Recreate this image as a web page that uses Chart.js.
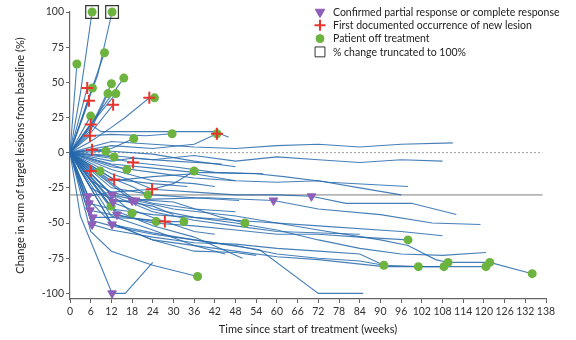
<!DOCTYPE html>
<html>
<head>
<meta charset="utf-8">
<script src="https://cdn.jsdelivr.net/npm/chart.js@4/dist/chart.umd.min.js"></script>
<style>
  html, body { margin: 0; padding: 0; background: #fff; }
  #wrap { width: 576px; height: 340px; }
</style>
</head>
<body>
<div id="wrap"><canvas id="spider"></canvas></div>
<script>
// Each patient: flat list of week, % change pairs
const patientPaths = [
  [0,0, 3,42, 6.4,100],
  [0,0, 5,35, 8,55, 12.2,100],
  [0,0, 2,63],
  [0,0, 5,36, 10,71],
  [0,0, 5,46, 6.5,46],
  [0,0, 5.5,37],
  [0,0, 6,18, 12,49],
  [0,0, 7,24, 15.6,53],
  [0,0, 6,16, 11,42],
  [0,0, 8,26, 13.3,42],
  [0,0, 6,14, 12.5,34],
  [0,0, 6,8, 12,18, 16,25, 23,39, 24.5,39],
  [0,0, 6,26],
  [0,0, 6,20, 9,15, 42,15, 46,11],
  [0,0, 5.8,12, 12,13, 22,12, 29.6,13.5],
  [0,0, 12,5, 24,3, 36,6, 42.6,13.5],
  [0,0, 6.4,2, 12,1, 24,-1, 36,-6, 48,-10],
  [0,0, 10.4,1],
  [0,0, 12.8,-3],
  [0,0, 12,-4, 18.3,-7, 30,-10, 42,-14, 56,-15],
  [0,0, 6,-13, 8.7,-13],
  [0,0, 16.5,-12],
  [0,0, 12.8,-19, 24,-22, 34,-24],
  [0,0, 12,3, 18.5,10],
  [0,0, 12,-18, 18,-24, 22.6,-30],
  [0,0, 12,-15, 18,-20, 23.8,-26, 30,-22, 36,-13],
  [0,0, 12,8, 24,6, 36,4, 48,3, 60,5, 72,6, 84,4, 96,6, 111,7],
  [0,0, 12,-2, 24,-5, 36,-2, 48,-6, 60,-3, 72,-5, 84,-7, 96,-5, 108,-6],
  [0,0, 12,-8, 24,-11, 36,-14, 54,-15, 62,-17, 75,-21, 98,-24],
  [0,0, 5.2,-31, 12,-28, 24,-26, 36,-28, 48,-30, 60,-30, 70,-31, 80,-36, 99,-36, 112,-44],
  [0,0, 12.5,-35, 24,-33, 40,-32, 59,-34, 72,-40, 90,-44, 105,-50, 119,-51],
  [0,0, 5.5,-36, 12,-40, 24,-44, 48,-48, 72,-52, 96,-56, 108,-59],
  [0,0, 5.8,-41, 12,-44, 25,-49],
  [0,0, 6.6,-46, 12,-46, 20,-47, 27.5,-49, 33,-49],
  [0,0, 6.4,-51, 12,-55, 24,-60, 36,-64, 48,-65, 60,-68, 72,-70, 84,-72, 91,-80],
  [0,0, 12.2,-30, 18,-33, 30,-35, 44,-46, 50.7,-50],
  [0,0, 11.9,-38],
  [0,0, 12.2,-30, 18,-43],
  [0,0, 13.6,-44, 24,-50, 36,-52, 48,-55, 60,-58, 72,-58, 84,-60, 98,-62],
  [0,0, 12.2,-51, 24,-57, 36,-62, 55,-69, 72,-100, 85,-100],
  [0,0, 6,-56, 12,-70, 24,-80, 37,-88],
  [0,0, 3,-45, 12.2,-100, 16,-100, 24,-78],
  [0,0, 18,-34, 24,-40, 36,-46, 48,-50, 60,-55, 72,-62, 84,-68, 96,-72, 108,-73, 120.6,-71],
  [0,0, 19,-34, 30,-40, 48,-45, 60,-50, 72,-55, 90,-62, 98,-66, 106,-76, 109.6,-78, 121.7,-78, 134,-86],
  [0,0, 6,-48, 12,-52, 24,-58, 36,-62, 48,-66, 60,-72, 72,-75, 84,-77, 91,-80, 101,-81, 108.4,-81],
  [0,0, 6,-35, 12,-50, 24,-62, 48,-70, 60,-74, 72,-76, 91,-81, 108,-81, 120.6,-81],
  [0,0, 12,-40, 24,-52, 36,-60, 50,-75],
  [0,0, 12,-25, 24,-30, 36,-32, 49,-34],
  [0,0, 12,-50, 24,-62, 36,-70, 48,-71, 54,-73],
  [0,0, 12,-20, 24,-17, 36,-15, 48,-20, 60,-21, 72,-20, 84,-25, 96,-30],
  [0,0, 12,-10, 24,-14, 36,-18, 48,-20],
  [0,0, 12,-12, 24,-20, 36,-22, 42,-24],
  [0,0, 6,-20, 12,-28, 24,-36, 36,-40, 48,-42],
  [0,0, 12,-30, 24,-42, 36,-48, 48,-52, 60,-56, 84,-58],
  [0,0, 12,-35, 24,-46, 36,-56, 42,-58],
  [0,0, 12,-6, 18,-4, 30,-6, 44,-8],
  [0,0, 6,-25, 12,-33, 24,-38, 30,-44],
  [0,0, 12,-45, 24,-55, 36,-66, 45,-72]
];

// markers: [week, % change]
const responseMarks = [
  [5.2,-31],[5.5,-36],[5.8,-41],[6.6,-46],[6.4,-51],[12.2,-30],[12.5,-35],
  [13.6,-44],[12.2,-51],[18,-34],[19,-34],[59,-34],[70,-31],[12.2,-100]
];
const lesionMarks = [
  [5,46],[5.5,37],[12.5,34],[23,39],[6,20],[5.8,12],[6.4,2],[18.3,-7],
  [6,-13],[12.8,-19],[23.8,-26],[27.5,-49],[42.6,13.5]
];
const offTreatmentMarks = [
  [6.4,100],[12.2,100],[2,63],[10,71],[6.5,46],[12,49],[15.6,53],[11,42],[13.3,42],
  [24.5,39],[6,26],[18.5,10],[29.6,13.5],[42.6,13.5],[10.4,1],[12.8,-3],[8.7,-13],
  [16.5,-12],[22.6,-30],[36,-13],[11.9,-38],[18,-43],[25,-49],[33,-49],[50.7,-50],
  [37,-88],[98,-62],[91,-80],[101,-81],[108.4,-81],[109.6,-78],[120.6,-81],[121.7,-78],[134,-86]
];
const truncatedMarks = [[6.4,100],[12.2,100]];

const xTicks = [0,6,12,18,24,30,36,42,48,54,60,66,72,78,84,90,96,102,108,114,120,126,132,138];
const yTicks = [-100,-75,-50,-25,0,25,50,75,100];
const zeroLine = [[0,0],[137,0]];
const cutoffLine = [[0,-30],[137,-30]];

const legendItems = [
  'Confirmed partial response or complete response',
  'First documented occurrence of new lesion',
  'Patient off treatment',
  '% change truncated to 100%'
];

const FONT = 'Lato, "Open Sans", sans-serif';
const LINE_COLOR = 'rgba(38,104,172,0.85)';
const GREEN = '#6db33f';
const RED = '#e8352c';
const PURPLE = '#8e5fb8';

function toPoints(arr) {
  return arr.map(p => ({ x: p[0], y: p[1] }));
}

function pathToPoints(flat) {
  const pts = [];
  for (let i = 0; i < flat.length; i += 2) pts.push({ x: flat[i], y: flat[i + 1] });
  return pts;
}

const markerSets = [
  { data: toPoints(truncatedMarks), pointStyle: 'rect', pointRadius: 9, backgroundColor: 'rgba(0,0,0,0)', borderColor: '#333', pointBorderWidth: 1.2 },
  { data: toPoints(responseMarks), pointStyle: 'triangle', rotation: 180, pointRadius: 5, backgroundColor: PURPLE, borderColor: PURPLE, pointBorderWidth: 1 },
  { data: toPoints(lesionMarks), pointStyle: 'cross', pointRadius: 6, backgroundColor: RED, borderColor: RED, pointBorderWidth: 2 },
  { data: toPoints(offTreatmentMarks), pointStyle: 'circle', pointRadius: 4.5, backgroundColor: GREEN, borderColor: GREEN, pointBorderWidth: 0 }
];

const datasets = [];
markerSets.forEach(m => {
  datasets.push(Object.assign({ showLine: false, order: 0, clip: false }, m));
});
patientPaths.forEach(p => {
  datasets.push({
    data: pathToPoints(p),
    showLine: true,
    borderColor: LINE_COLOR,
    borderWidth: 1.1,
    pointRadius: 0,
    order: 1
  });
});
datasets.push({ data: toPoints(zeroLine), showLine: true, borderColor: '#999', borderWidth: 1, borderDash: [2, 2], pointRadius: 0, order: 2 });
datasets.push({ data: toPoints(cutoffLine), showLine: true, borderColor: '#b5b5b5', borderWidth: 1.8, pointRadius: 0, order: 2 });

// legend drawn inside the plot area, top right
const cornerLegend = {
  id: 'cornerLegend',
  afterDraw(chart) {
    const ctx = chart.ctx;
    const styles = [markerSets[1], markerSets[2], markerSets[3], markerSets[0]];
    const x0 = 320, y0 = 12, step = 13.3;
    legendItems.forEach((label, i) => {
      const s = styles[i];
      const y = y0 + i * step;
      ctx.save();
      ctx.fillStyle = s.backgroundColor;
      ctx.strokeStyle = s.borderColor;
      ctx.lineWidth = i === 1 ? 2 : 1;
      Chart.helpers.drawPoint(ctx, {
        pointStyle: s.pointStyle,
        rotation: s.rotation || 0,
        radius: i === 3 ? 7 : (i === 2 ? 4 : 5.5),
        borderWidth: i === 1 ? 2 : 1
      }, x0, y);
      ctx.fillStyle = '#222';
      ctx.font = '10.5px ' + FONT;
      ctx.textBaseline = 'middle';
      ctx.fillText(label, x0 + 13, y + 0.5);
      ctx.restore();
    });
  }
};

new Chart(document.getElementById('spider'), {
  type: 'scatter',
  data: { datasets: datasets },
  options: {
    responsive: true,
    maintainAspectRatio: false,
    animation: false,
    layout: { padding: { top: 12, right: 30, left: 0, bottom: 0 } },
    plugins: {
      legend: { display: false },
      tooltip: { enabled: false }
    },
    scales: {
      x: {
        type: 'linear',
        min: 0,
        max: 138,
        afterBuildTicks: s => { s.ticks = xTicks.map(v => ({ value: v })); },
        afterFit: s => { s.height = 41; },
        ticks: { color: '#333', font: { family: FONT, size: 10.5 }, padding: 2, maxRotation: 0, autoSkip: false },
        grid: { display: true, drawOnChartArea: false, drawTicks: true, tickLength: 4, color: '#666' },
        border: { display: true, color: '#666', width: 1.2 },
        title: { display: true, text: 'Time since start of treatment (weeks)', color: '#222', font: { family: FONT, size: 11 }, padding: { top: 2, bottom: 4 } }
      },
      y: {
        type: 'linear',
        min: -104,
        max: 100,
        afterBuildTicks: s => { s.ticks = yTicks.map(v => ({ value: v })); },
        afterFit: s => { s.width = 70; },
        ticks: { color: '#333', font: { family: FONT, size: 10.5 }, padding: 2 },
        grid: { display: true, drawOnChartArea: false, drawTicks: true, tickLength: 4, color: '#666' },
        border: { display: true, color: '#666', width: 1.2 },
        title: { display: true, text: 'Change in sum of target lesions from baseline (%)', color: '#222', font: { family: FONT, size: 11 }, padding: { top: 14, bottom: 0 } }
      }
    }
  },
  plugins: [cornerLegend]
});
</script>
</body>
</html>
